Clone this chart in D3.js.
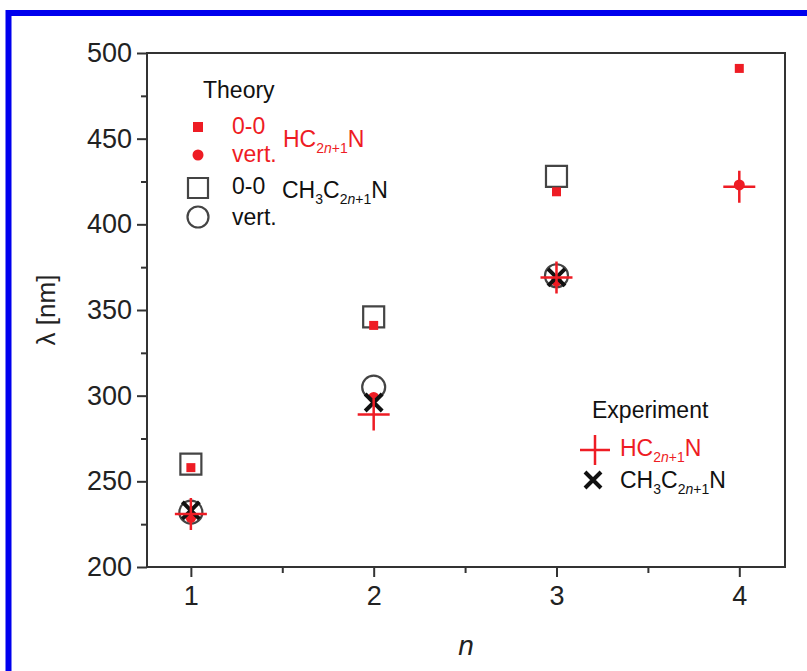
<!DOCTYPE html>
<html><head><meta charset="utf-8">
<script src="https://cdn.jsdelivr.net/npm/d3@7"></script>
<style>
body{margin:0;background:#fff}
text{font-family:"Liberation Sans",Arial,sans-serif}
</style>
</head><body>
<svg id="c" width="807" height="671"></svg>
<script>
// ---- data ----
const nAll = [1, 2, 3, 4];
const nCH3 = [1, 2, 3];
const hc00 = [258, 341, 419, 491];      // theory 0-0, HC(2n+1)N
const hcVert = [229, 299, 367, 423];    // theory vert., HC(2n+1)N
const ch300 = [260, 346, 428];          // theory 0-0, CH3C(2n+1)N
const ch3Vert = [232, 305, 370];        // theory vert., CH3C(2n+1)N
const expHC = [231, 289, 369, 422];     // experiment HC(2n+1)N
const expCH3 = [233, 296, 369];         // experiment CH3C(2n+1)N
const yTicks = [200, 250, 300, 350, 400, 450, 500];
const yMinor = [225, 275, 325, 375, 425, 475];
const xTicks = [1, 2, 3, 4];
const xMinor = [1.5, 2.5, 3.5];

const RED = "#ee1c24", GRAY = "#444";
const svg = d3.select("#c");
svg.append("rect").attr("width", 807).attr("height", 671).attr("fill", "#fff");
// blue frame (partially cropped)
svg.append("rect").attr("x", 8.5).attr("y", 13).attr("width", 900).attr("height", 800)
  .attr("fill", "none").attr("stroke", "#0000ee").attr("stroke-width", 6);

const L = 147, R = 785, T = 53, B = 567;
const x = d3.scaleLinear().domain([0.76, 4.25]).range([L, R]);
const y = d3.scaleLinear().domain([200, 500]).range([B, T]);

// axes
const gy = svg.append("g").attr("transform", `translate(${L},0)`);
gy.call(d3.axisLeft(y).tickValues(yTicks).tickSize(10).tickPadding(5).tickFormat(d3.format("d")));
gy.append("g").call(d3.axisLeft(y).tickValues(yMinor).tickSize(6).tickFormat(""));
const gx = svg.append("g").attr("transform", `translate(0,${B})`);
gx.call(d3.axisBottom(x).tickValues(xTicks).tickSize(10).tickPadding(9).tickFormat(d3.format("d")));
gx.append("g").call(d3.axisBottom(x).tickValues(xMinor).tickSize(6).tickFormat(""));
svg.selectAll(".domain").remove();
svg.selectAll(".tick line").attr("stroke", "#333").attr("stroke-width", 2);
svg.selectAll(".tick text").attr("font-size", 27).attr("fill", "#222")
  .style("font-family", '"Liberation Sans",Arial,sans-serif');
svg.append("rect").attr("x", L).attr("y", T).attr("width", R - L).attr("height", B - T)
  .attr("fill", "none").attr("stroke", "#333").attr("stroke-width", 2);

// axis titles
svg.append("text").attr("transform", `translate(55,${(T + B) / 2}) rotate(-90)`)
  .attr("text-anchor", "middle").attr("font-size", 26).attr("fill", "#222").text("λ [nm]");
svg.append("text").attr("x", (L + R) / 2).attr("y", 655).attr("text-anchor", "middle")
  .attr("font-size", 28).attr("font-style", "italic").attr("fill", "#222").text("n");

// markers
const sq = s => d3.symbol(d3.symbolSquare, s * s)();
const circ = dd => d3.symbol(d3.symbolCircle, Math.PI * dd * dd / 4)();
const plusPath = s => `M${-s / 2},0H${s / 2}M0,${-s / 2}V${s / 2}`;
const crossPath = s => `M${-s / 2},${-s / 2}L${s / 2},${s / 2}M${s / 2},${-s / 2}L${-s / 2},${s / 2}`;

function drawSeries(ns, vals, path, attrs) {
  svg.append("g").selectAll("path").data(ns.map((n, i) => [n, vals[i]])).join("path")
    .attr("transform", d => `translate(${x(d[0])},${y(d[1])})`)
    .attr("d", path).each(function () { const s = d3.select(this); for (const k in attrs) s.attr(k, attrs[k]); });
}
drawSeries(nCH3, ch300, sq(21), {fill: "none", stroke: GRAY, "stroke-width": 2.2});
drawSeries(nAll, hc00, sq(9), {fill: RED});
drawSeries(nCH3, ch3Vert, circ(23), {fill: "none", stroke: GRAY, "stroke-width": 2.2});
drawSeries(nAll, hcVert, circ(11), {fill: RED});
drawSeries(nCH3, expCH3, crossPath(17), {fill: "none", stroke: "#111", "stroke-width": 4});
drawSeries(nAll, expHC, plusPath(32), {fill: "none", stroke: RED, "stroke-width": 2.5});

// legend helpers
function formula(g, px, py, parts, color) {
  const t = g.append("text").attr("x", px).attr("y", py).attr("font-size", 23).attr("fill", color);
  let shifted = false;
  parts.forEach(p => {
    const ts = t.append("tspan").text(p.t);
    if (p.sub && !shifted) { ts.attr("dy", 6).attr("font-size", 14); shifted = true; }
    else if (p.sub) { ts.attr("font-size", 14); }
    else if (!p.sub && shifted) { ts.attr("dy", -6); shifted = false; }
    if (p.it) ts.attr("font-style", "italic");
  });
}
const lg = svg.append("g");
lg.append("text").attr("x", 203).attr("y", 98).attr("font-size", 23).attr("fill", "#111").text("Theory");
lg.append("path").attr("transform", "translate(198,127)").attr("d", sq(10)).attr("fill", RED);
lg.append("text").attr("x", 232).attr("y", 134).attr("font-size", 23).attr("fill", RED).text("0-0");
lg.append("path").attr("transform", "translate(198,155)").attr("d", circ(11)).attr("fill", RED);
lg.append("text").attr("x", 232).attr("y", 162).attr("font-size", 23).attr("fill", RED).text("vert.");
formula(lg, 283, 147, [{t: "HC"}, {t: "2", sub: 1}, {t: "n", sub: 1, it: 1}, {t: "+1", sub: 1}, {t: "N"}], RED);
lg.append("path").attr("transform", "translate(198,188)").attr("d", sq(20)).attr("fill", "none").attr("stroke", GRAY).attr("stroke-width", 2.2);
lg.append("text").attr("x", 232).attr("y", 194).attr("font-size", 23).attr("fill", "#111").text("0-0");
formula(lg, 282, 198, [{t: "CH"}, {t: "3", sub: 1}, {t: "C"}, {t: "2", sub: 1}, {t: "n", sub: 1, it: 1}, {t: "+1", sub: 1}, {t: "N"}], "#111");
lg.append("path").attr("transform", "translate(198,217)").attr("d", circ(21)).attr("fill", "none").attr("stroke", GRAY).attr("stroke-width", 2.2);
lg.append("text").attr("x", 232).attr("y", 225).attr("font-size", 23).attr("fill", "#111").text("vert.");

lg.append("text").attr("x", 592).attr("y", 418).attr("font-size", 23).attr("fill", "#111").text("Experiment");
lg.append("path").attr("transform", "translate(595,450)").attr("d", plusPath(30)).attr("stroke", RED).attr("stroke-width", 2.5);
formula(lg, 620, 456, [{t: "HC"}, {t: "2", sub: 1}, {t: "n", sub: 1, it: 1}, {t: "+1", sub: 1}, {t: "N"}], RED);
lg.append("path").attr("transform", "translate(593,480)").attr("d", crossPath(16)).attr("stroke", "#111").attr("stroke-width", 4);
formula(lg, 620, 488, [{t: "CH"}, {t: "3", sub: 1}, {t: "C"}, {t: "2", sub: 1}, {t: "n", sub: 1, it: 1}, {t: "+1", sub: 1}, {t: "N"}], "#111");
</script>
</body></html>
